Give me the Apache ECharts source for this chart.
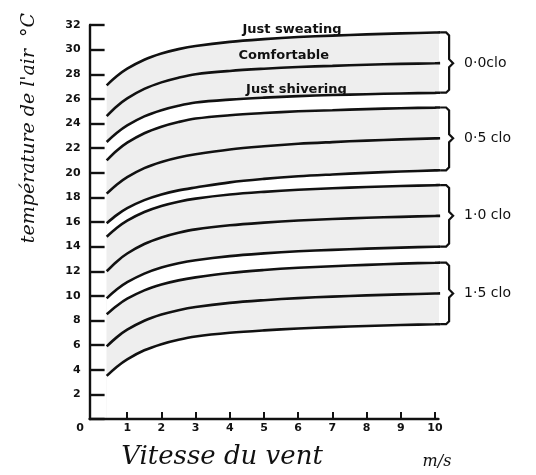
<!DOCTYPE html>
<html><head><meta charset="utf-8">
<script src="https://cdn.jsdelivr.net/npm/echarts@6/dist/echarts.min.js"></script>
<style>html,body{margin:0;padding:0;background:#fff}#c{width:536px;height:475px}</style>
</head><body><div id="c"></div><script>
// Wind speed (m/s) sample points
const windSpeed = [0.4, 0.7, 1, 1.5, 2, 2.5, 3, 4, 5, 6, 7, 8, 9, 10, 10.15];

// 0.0 clo
const clo00Top = [27.10, 27.85, 28.45, 29.18, 29.68, 30.04, 30.30, 30.63, 30.85, 31.02, 31.14, 31.24, 31.32, 31.39, 31.40];
const clo00Mid = [24.60, 25.40, 26.04, 26.81, 27.34, 27.72, 28.00, 28.27, 28.45, 28.59, 28.68, 28.77, 28.84, 28.89, 28.90];
const clo00Bot = [22.50, 23.25, 23.85, 24.58, 25.08, 25.44, 25.70, 25.94, 26.10, 26.22, 26.31, 26.38, 26.44, 26.49, 26.50];
// 0.5 clo
const clo05Top = [21.00, 21.80, 22.44, 23.21, 23.74, 24.12, 24.40, 24.67, 24.85, 24.99, 25.08, 25.17, 25.24, 25.29, 25.30];
const clo05Mid = [18.30, 19.05, 19.65, 20.38, 20.88, 21.24, 21.50, 21.89, 22.15, 22.35, 22.49, 22.61, 22.71, 22.79, 22.80];
const clo05Bot = [15.90, 16.58, 17.13, 17.78, 18.24, 18.57, 18.80, 19.22, 19.50, 19.71, 19.86, 19.99, 20.10, 20.19, 20.20];
// 1.0 clo
const clo10Top = [14.80, 15.53, 16.11, 16.81, 17.30, 17.65, 17.90, 18.23, 18.45, 18.62, 18.74, 18.84, 18.92, 18.99, 19.00];
const clo10Mid = [12.00, 12.80, 13.44, 14.21, 14.74, 15.12, 15.40, 15.73, 15.95, 16.12, 16.24, 16.34, 16.42, 16.49, 16.50];
const clo10Bot = [9.80, 10.53, 11.11, 11.81, 12.30, 12.65, 12.90, 13.23, 13.45, 13.62, 13.74, 13.84, 13.92, 13.99, 14.00];
// 1.5 clo
const clo15Top = [8.50, 9.20, 9.77, 10.45, 10.92, 11.26, 11.50, 11.86, 12.10, 12.28, 12.41, 12.52, 12.62, 12.69, 12.70];
const clo15Mid = [5.90, 6.65, 7.25, 7.98, 8.48, 8.84, 9.10, 9.43, 9.65, 9.82, 9.94, 10.04, 10.12, 10.19, 10.20];
const clo15Bot = [3.50, 4.25, 4.85, 5.58, 6.08, 6.44, 6.70, 7.00, 7.20, 7.35, 7.46, 7.55, 7.63, 7.69, 7.70];

const groupLabels = ['0·0clo', '0·5 clo', '1·0 clo', '1·5 clo'];
const zoneLabels = ['Just sweating', 'Comfortable', 'Just shivering'];
const xTickValues = [1, 2, 3, 4, 5, 6, 7, 8, 9, 10];
const xLabelValues = [0, 1, 2, 3, 4, 5, 6, 7, 8, 9, 10];
const yAxisTitle = "température de l'air  °C";
const xAxisTitle = 'Vitesse du vent';
const xAxisUnit = 'm/s';

const groups = [
  [clo00Top, clo00Mid, clo00Bot],
  [clo05Top, clo05Mid, clo05Bot],
  [clo10Top, clo10Mid, clo10Bot],
  [clo15Top, clo15Mid, clo15Bot]
];
const pts = arr => windSpeed.map((x, i) => [x, arr[i]]);
const SMOOTH = 0.35;

const series = [];
groups.forEach((g, gi) => {
  series.push({
    type: 'line', data: pts(g[0]), smooth: SMOOTH, showSymbol: false, clip: false,
    lineStyle: { width: 0 }, areaStyle: { color: '#eeeeee', opacity: 1, origin: 'start' },
    z: 1 + gi * 2, silent: true
  });
  series.push({
    type: 'line', data: pts(g[2]), smooth: SMOOTH, showSymbol: false, clip: false,
    lineStyle: { width: 0 }, areaStyle: { color: '#ffffff', opacity: 1, origin: 'start' },
    z: 2 + gi * 2, silent: true
  });
});
groups.forEach(g => g.forEach(c => {
  series.push({
    type: 'line', data: pts(c), smooth: SMOOTH, showSymbol: false, clip: false,
    lineStyle: { width: 2.6, color: '#111' }, z: 20, silent: true
  });
}));

const chart = echarts.init(document.getElementById('c'), null, { renderer: 'canvas' });
const lab = { fontFamily: 'DejaVu Sans', fontWeight: 'bold', fontSize: 11, color: '#111' };
chart.setOption({
  backgroundColor: '#fff',
  animation: false,
  grid: { left: 89.6, width: 348.8, top: 25, height: 394, containLabel: false },
  xAxis: {
    type: 'value', min: -0.1, max: 10.1, z: 30,
    splitLine: { show: false },
    axisLine: { show: true, onZero: false, lineStyle: { color: '#111', width: 2.4 } },
    axisTick: { show: true, inside: true, length: 7, customValues: xTickValues, lineStyle: { color: '#111', width: 2 } },
    axisLabel: {
      show: true, customValues: xLabelValues, margin: 4, ...lab,
      formatter: v => v === 0 ? '{z|0}' : String(v),
      rich: { z: { ...lab, padding: [0, 26, 0, 0] } }
    }
  },
  yAxis: {
    type: 'value', min: 0, max: 32, interval: 2, z: 30,
    splitLine: { show: false },
    axisLine: { show: true, onZero: false, lineStyle: { color: '#111', width: 2.4 } },
    axisTick: { show: true, inside: true, length: 15, lineStyle: { color: '#111', width: 2.4 } },
    axisLabel: { show: true, margin: 9, ...lab, formatter: v => v === 0 ? '' : String(v) }
  },
  series
});

function px(x, y) { return chart.convertToPixel({ gridIndex: 0 }, [x, y]); }
const graphics = [];
const last = windSpeed.length - 1;
groups.forEach((g, gi) => {
  const pt = px(windSpeed[last], g[0][last]);
  const pm = px(windSpeed[last], g[1][last]);
  const pb = px(windSpeed[last], g[2][last]);
  const x0 = pt[0], x1 = pt[0] + 9;
  graphics.push({
    type: 'polyline', silent: true, z: 50,
    shape: { points: [[x0, pt[1]], [x1 - 3, pt[1]], [x1, pt[1] + 3], [x1, pm[1] - 4], [x1 + 4, pm[1]], [x1, pm[1] + 4], [x1, pb[1] - 3], [x1 - 3, pb[1]], [x0, pb[1]]] },
    style: { stroke: '#111', lineWidth: 2.2, fill: null }
  });
  graphics.push({
    type: 'text', z: 50, x: x1 + 15, y: pm[1],
    style: { text: groupLabels[gi], fontFamily: 'DejaVu Sans', fontSize: 14, fill: '#111', align: 'left', verticalAlign: 'middle' }
  });
});
const zonePos = [[5.82, 31.65], [5.58, 29.55], [5.95, 26.75]];
zoneLabels.forEach((t, i) => {
  const p = px(zonePos[i][0], zonePos[i][1]);
  graphics.push({
    type: 'text', z: 50, x: p[0], y: p[1],
    style: { text: t, fontFamily: 'DejaVu Sans', fontWeight: 'bold', fontSize: 13, fill: '#111', align: 'center', verticalAlign: 'middle' }
  });
});
graphics.push({
  type: 'text', z: 50, x: 29, y: 128, rotation: Math.PI / 2,
  style: { text: yAxisTitle, fontFamily: 'DejaVu Serif', fontStyle: 'italic', fontSize: 19, fill: '#111', align: 'center', verticalAlign: 'middle' }
});
graphics.push({
  type: 'text', z: 50, x: 222, y: 457,
  style: { text: xAxisTitle, fontFamily: 'DejaVu Serif', fontStyle: 'italic', fontSize: 26, fill: '#111', align: 'center', verticalAlign: 'middle' }
});
graphics.push({
  type: 'text', z: 50, x: 437, y: 462,
  style: { text: xAxisUnit, fontFamily: 'DejaVu Serif', fontStyle: 'italic', fontSize: 16, fill: '#111', align: 'center', verticalAlign: 'middle' }
});
chart.setOption({ graphic: graphics });
</script></body></html>
